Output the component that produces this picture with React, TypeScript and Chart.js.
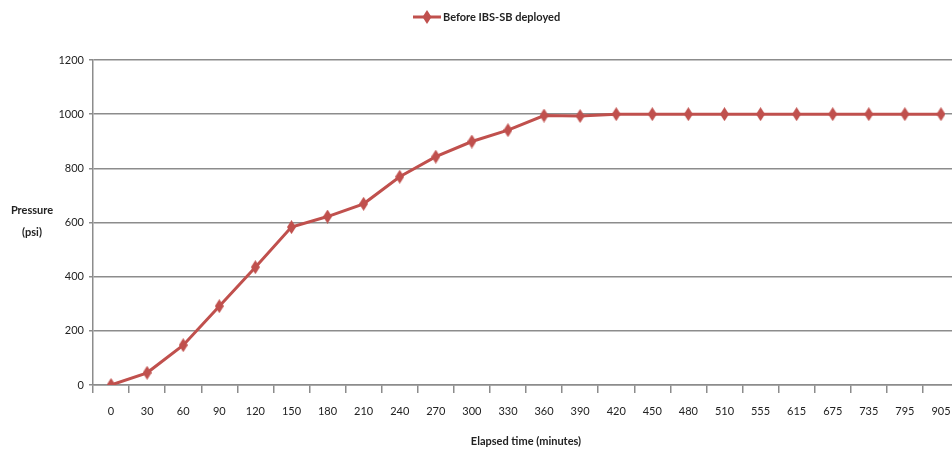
import React, { useEffect, useRef } from "react";
import { Chart, registerables } from "chart.js";

Chart.register(...registerables);

const categories = [
  "0", "30", "60", "90", "120", "150", "180", "210", "240", "270", "300", "330",
  "360", "390", "420", "450", "480", "510", "555", "615", "675", "735", "795", "905",
];
const pressure = [
  0, 45, 147, 291, 435, 583, 622, 669, 769, 843, 899, 941,
  995, 993, 1000, 1000, 1000, 1000, 1000, 1000, 1000, 1000, 1000, 1000,
];
const yMin = 0;
const yMax = 1200;
const yStep = 200;
const seriesLabel = "Before IBS-SB deployed";
const xTitle = "Elapsed time (minutes)";
const yTitleLines = ["Pressure", "(psi)"];

const RED = "#C0504D";
const GRID = "#8c8c8c";
const FONT = 'Lato, "Liberation Sans Narrow", "DejaVu Sans Condensed", sans-serif';

function makeDiamond(w: number, h: number, lineLen = 0): HTMLCanvasElement {
  const c = document.createElement("canvas");
  const W = Math.max(w, lineLen);
  c.width = W;
  c.height = h;
  const ctx = c.getContext("2d")!;
  if (lineLen > 0) {
    ctx.strokeStyle = RED;
    ctx.lineWidth = 3;
    ctx.beginPath();
    ctx.moveTo(0, h / 2);
    ctx.lineTo(W, h / 2);
    ctx.stroke();
  }
  ctx.fillStyle = RED;
  const cx = W / 2;
  ctx.beginPath();
  ctx.moveTo(cx, 0);
  ctx.lineTo(cx + w / 2, h / 2);
  ctx.lineTo(cx, h);
  ctx.lineTo(cx - w / 2, h / 2);
  ctx.closePath();
  ctx.fill();
  return c;
}

function makeTextPlugin(legendImg: HTMLCanvasElement) {
  return {
    id: "customText",
    afterDraw(chart: any) {
      const ctx = chart.ctx as CanvasRenderingContext2D;
      ctx.save();
      ctx.fillStyle = "#222";
      ctx.font = `bold 11px ${FONT}`;
      ctx.textAlign = "center";
      ctx.textBaseline = "middle";
      ctx.fillText(yTitleLines[0], 32, 210);
      ctx.fillText(yTitleLines[1], 32, 232);
      const ly = 17;
      ctx.drawImage(legendImg, 413, ly - legendImg.height / 2);
      ctx.textAlign = "left";
      ctx.fillText(seriesLabel, 443, ly);
      ctx.restore();
    },
  };
}

export default function App() {
  const ref = useRef<HTMLCanvasElement | null>(null);

  useEffect(() => {
    const canvas = ref.current;
    if (!canvas) return;
    const pointImg = makeDiamond(9, 14);
    const legendImg = makeDiamond(9, 14, 28);
    const chart = new Chart(canvas, {
      type: "line",
      data: {
        labels: categories,
        datasets: [
          {
            label: seriesLabel,
            data: pressure,
            borderColor: RED,
            backgroundColor: RED,
            borderWidth: 3,
            pointStyle: pointImg as any,
            pointRadius: 5,
            tension: 0,
          },
        ],
      },
      options: {
        responsive: false,
        animation: false,
        events: [],
        layout: { padding: { top: 60, right: 11, left: 0, bottom: 0 } },
        plugins: {
          legend: { display: false },
          tooltip: { enabled: false },
        },
        scales: {
          x: {
            type: "category",
            offset: true,
            grid: {
              display: true,
              drawOnChartArea: false,
              drawTicks: true,
              tickLength: 8,
              offset: true,
              color: GRID,
              lineWidth: 1.5,
            },
            border: { display: true, color: GRID, width: 1.5 },
            ticks: {
              color: "#222",
              font: { family: FONT, size: 11 },
              padding: 12,
              maxRotation: 0,
              autoSkip: false,
            },
            title: {
              display: true,
              text: xTitle,
              color: "#222",
              font: { family: FONT, size: 11, weight: "bold" },
              padding: { top: 4, bottom: 6 },
            },
            afterFit(scale: any) {
              scale.height = 69;
            },
          },
          y: {
            min: yMin,
            max: yMax,
            ticks: {
              stepSize: yStep,
              color: "#222",
              font: { family: FONT, size: 11 },
              padding: 5,
              callback: (v: any) => String(v),
            },
            grid: {
              color: GRID,
              lineWidth: 1.5,
              drawTicks: true,
              tickLength: 4,
            },
            border: { display: true, color: GRID, width: 1.5 },
            afterFit(scale: any) {
              scale.width = 93;
            },
          },
        },
      },
      plugins: [makeTextPlugin(legendImg)],
    });
    return () => chart.destroy();
  }, []);

  return (
    <div
      style={{
        position: "fixed",
        left: 0,
        top: 0,
        width: 952,
        height: 454,
        overflow: "hidden",
        background: "#fff",
      }}
    >
      <canvas ref={ref} width={970} height={454} style={{ display: "block" }} />
    </div>
  );
}
